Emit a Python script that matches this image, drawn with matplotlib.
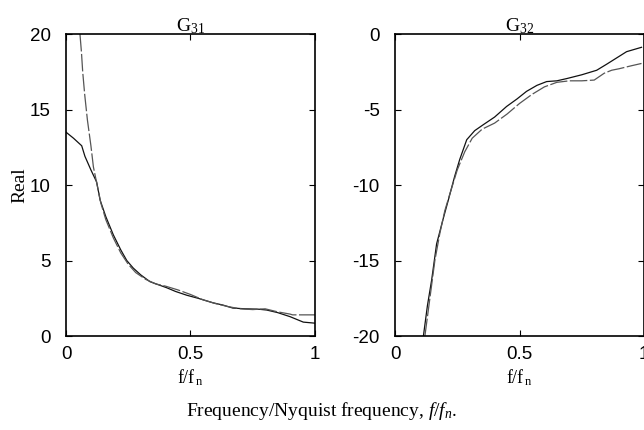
import numpy as np
import matplotlib
matplotlib.use('Agg')
import matplotlib.pyplot as plt

plt.rcParams['mathtext.fontset'] = 'custom'
plt.rcParams['mathtext.rm'] = 'Liberation Serif'
plt.rcParams['mathtext.it'] = 'Liberation Serif:italic'
plt.rcParams['axes.unicode_minus'] = False

# G31 real part, estimate (solid) and reference (dashed)
g31_f_a = [0.0, 0.03, 0.063, 0.076, 0.1, 0.123, 0.137, 0.16, 0.19, 0.22, 0.244, 0.27, 0.3, 0.337,
           0.37, 0.404, 0.44, 0.485, 0.53, 0.59, 0.63, 0.67, 0.72, 0.77, 0.806, 0.85, 0.9, 0.953, 1.0]
g31_a = [13.5, 13.1, 12.6, 11.9, 11.0, 10.2, 9.0, 7.9, 6.7, 5.7, 5.0, 4.5, 4.05, 3.6,
         3.4, 3.2, 2.95, 2.7, 2.5, 2.2, 2.05, 1.85, 1.8, 1.78, 1.72, 1.55, 1.28, 0.92, 0.85]
g31_f_b = [0.056, 0.062, 0.067, 0.075, 0.086, 0.1, 0.11, 0.125, 0.14, 0.16, 0.19, 0.22, 0.25, 0.28,
           0.32, 0.36, 0.4, 0.45, 0.5, 0.55, 0.6, 0.65, 0.7, 0.75, 0.8, 0.85, 0.9, 0.91, 1.0]
g31_b = [20.0, 18.8, 17.5, 16.0, 14.3, 12.6, 11.2, 10.0, 8.8, 7.7, 6.5, 5.5, 4.75, 4.2,
         3.75, 3.45, 3.3, 3.05, 2.75, 2.4, 2.15, 1.95, 1.8, 1.75, 1.8, 1.6, 1.45, 1.4, 1.4]

# G32 real part
g32_f_a = [0.114, 0.13, 0.147, 0.167, 0.194, 0.214, 0.24, 0.26, 0.288, 0.32, 0.355, 0.4, 0.448,
           0.49, 0.528, 0.57, 0.609, 0.65, 0.69, 0.75, 0.81, 0.85, 0.877, 0.93, 0.99]
g32_a = [-20.0, -18.0, -16.3, -13.9, -12.2, -11.0, -9.4, -8.3, -7.0, -6.4, -6.0, -5.5, -4.8,
         -4.3, -3.8, -3.4, -3.15, -3.1, -2.95, -2.7, -2.4, -2.0, -1.72, -1.17, -0.88]
g32_f_b = [0.12, 0.14, 0.16, 0.18, 0.2, 0.22, 0.25, 0.28, 0.31, 0.35, 0.4, 0.45, 0.5,
           0.55, 0.6, 0.65, 0.7, 0.75, 0.8, 0.84, 0.87, 0.9, 0.95, 0.99]
g32_b = [-20.0, -17.5, -15.0, -13.2, -11.7, -10.6, -9.0, -7.8, -6.9, -6.3, -5.9, -5.3, -4.6,
         -4.0, -3.5, -3.2, -3.1, -3.1, -3.05, -2.6, -2.4, -2.3, -2.1, -1.95]

fig = plt.figure(figsize=(6.44, 4.3), dpi=100)
ax1 = fig.add_axes([0.1025, 0.2186, 0.3866, 0.7023])
ax2 = fig.add_axes([0.6134, 0.2186, 0.3866, 0.7023])

serif = 'Liberation Serif'
sans = 'Liberation Sans'

ax1.plot(g31_f_a, g31_a, color='#111111', lw=0.9)
ax1.plot(g31_f_b, g31_b, color='#555555', lw=0.9, ls=(0, (14, 2)))
ax2.plot(g32_f_a, g32_a, color='#111111', lw=0.9)
ax2.plot(g32_f_b, g32_b, color='#555555', lw=0.9, ls=(0, (14, 2)))

ax1.set_ylim(0, 20)
ax1.set_yticks([0, 5, 10, 15, 20])
ax2.set_ylim(-20, 0)
ax2.set_yticks([-20, -15, -10, -5, 0])

for ax, name in [(ax1, 'G$_{\\mathregular{31}}$'), (ax2, 'G$_{\\mathregular{32}}$')]:
    ax.set_xlim(0, 1)
    ax.set_xticks([0, 0.5, 1])
    ax.set_xticklabels(['0', '0.5', '1'])
    ax.tick_params(direction='in', top=True, right=True, length=4, width=0.8,
                   labelsize=13.5)
    ax.tick_params(axis='x', pad=7)
    ax.tick_params(axis='y', pad=11)
    for lab in ax.get_xticklabels() + ax.get_yticklabels():
        lab.set_fontfamily(sans)
    for sp in ax.spines.values():
        sp.set_linewidth(1.2)
    ax.set_title(name, fontfamily=serif, fontsize=14, pad=2)
    ax.set_xlabel('f/f$_{\\mathregular{\\,n}}$', fontfamily=serif, fontsize=13, labelpad=3)

ax1.set_ylabel('Real', fontfamily=serif, fontsize=14, labelpad=1)

fig.text(0.5, 0.045, 'Frequency/Nyquist frequency, $\\mathit{f/f_n}$.',
         fontfamily=serif, fontsize=14, ha='center', va='center')

fig.savefig('out.png', dpi=100)
